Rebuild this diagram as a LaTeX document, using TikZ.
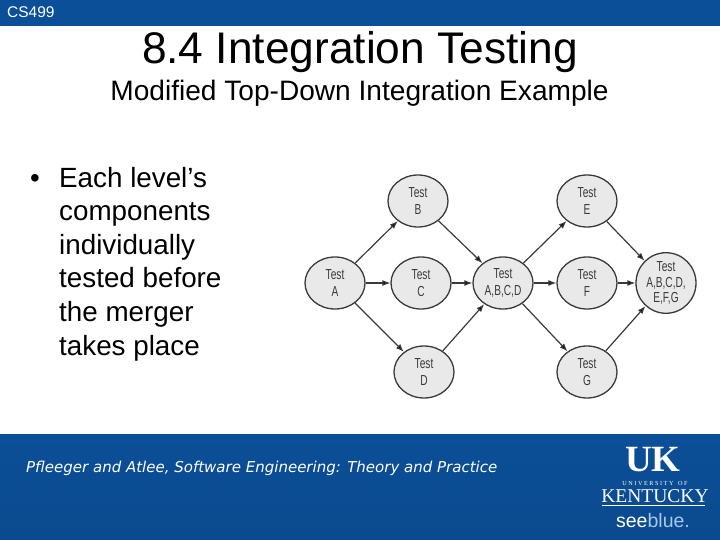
\documentclass[tikz,border=0pt]{standalone}
\usepackage{fontspec}
\setmainfont{Liberation Sans}
\newfontfamily\testfont[FakeStretch=0.7]{Liberation Sans}
\newfontfamily\footfont{DejaVu Sans}
\newfontfamily\logofont{Liberation Serif}
\usetikzlibrary{positioning,arrows.meta,shapes.geometric}
\definecolor{bandblue}{HTML}{0B4F98}
\definecolor{banddark}{HTML}{0B4A8E}
\definecolor{nodegray}{HTML}{E9E9E9}
\definecolor{linegray}{HTML}{3A3A3A}
\definecolor{paleblue}{HTML}{A9C8EA}
\tikzset{
	test/.style={ellipse,draw=linegray,line width=1.3pt,fill=nodegray,text=linegray,
		minimum width=60pt,minimum height=52pt,inner sep=0pt,align=center,
		font=\testfont\fontsize{14.5}{16.5}\selectfont},
	flow/.style={-{Latex[length=8pt,width=6pt]},draw=linegray,line width=1.2pt},
	bodyline/.style={anchor=base west,inner sep=0pt,font=\fontsize{27.8}{27.8}\selectfont},
	logotext/.style={text=white,inner sep=0pt,anchor=base}
}
\begin{document}
\begin{tikzpicture}[x=1pt,y=-1pt]
			\useasboundingbox (0,0) rectangle (720,540);
			% bands
			\fill[bandblue] (0,0) rectangle (720,26);
			\fill[bottom color=banddark,top color=bandblue] (0,434) rectangle (720,540);
			\node[anchor=base west,text=white,inner sep=0pt,font=\fontsize{15.5}{15.5}\selectfont] (course) at (7,18) {CS499};
			% headings
			\node[anchor=base,inner sep=0pt,font=\fontsize{44.3}{44.3}\selectfont] (title) at (360,64) {8.4 Integration Testing};
			\node[anchor=base,inner sep=0pt,font=\fontsize{28.1}{28.1}\selectfont] (subtitle) at (359.5,100.5) {Modified Top-Down Integration Example};
			% bullet text
			\node[bodyline] (bullet) at (30,187.5) {•};
			\node[bodyline] (line1) at (59,187.5) {Each level’s};
			\node[bodyline] (line2) at (59,220.5) {components};
			\node[bodyline] (line3) at (59,254.5) {individually};
			\node[bodyline] (line4) at (59,287.5) {tested before};
			\node[bodyline] (line5) at (59,321.5) {the merger};
			\node[bodyline] (line6) at (59,355.5) {takes place};
			% test nodes
			\node[test] (t_a) at (335,283) {Test\\A};
			\node[test] (t_b) at (418,201) {Test\\B};
			\node[test] (t_c) at (421,283) {Test\\C};
			\node[test] (t_d) at (424,372) {Test\\D};
			\node[test] (t_abcd) at (503,283) {Test\\A,B,C,D};
			\node[test] (t_e) at (587,201) {Test\\E};
			\node[test] (t_f) at (587,283) {Test\\F};
			\node[test] (t_g) at (587,372) {Test\\G};
			\node[test,font=\testfont\fontsize{14.5}{15.5}\selectfont] (t_all) at (666,283) {Test\\A,B,C,D,\\E,F,G};
			\path[flow]
			(t_a) edge (t_b)
			edge (t_c)
			edge (t_d)
			(t_b) edge (t_abcd)
			(t_c) edge (t_abcd)
			(t_d) edge (t_abcd)
			(t_abcd) edge (t_e)
			edge (t_f)
			edge (t_g)
			(t_e) edge (t_all)
			(t_f) edge (t_all)
			(t_g) edge (t_all);
			% footer and logo
			\node[anchor=base west,inner sep=0pt,text=white,font=\footfont\itshape\fontsize{15}{15}\selectfont] (source) at (26,472) {Pfleeger and Atlee, Software Engineering: Theory and Practice};
			\node[logotext,font=\logofont\bfseries\fontsize{37}{37}\selectfont] (uk) at (653,471.5) {UK};
			\node[logotext,font=\logofont\fontsize{6.2}{6.2}\selectfont] (univ) at (655,485) {U N I V E R S I T Y \ \ O F};
			\node[logotext,font=\logofont\fontsize{19.5}{19.5}\selectfont] (kentucky) at (655,502) {KENTUCKY};
			\coordinate (rule_l) at (602,505);
			\coordinate (rule_r) at (705,505);
			\draw[white,line width=0.7pt] (rule_l) -- (rule_r);
			\node[logotext,font=\fontsize{19.5}{19.5}\selectfont] (seeblue) at (653,527) {see\textcolor{paleblue}{blue.}};
		\end{tikzpicture}
\end{document}
